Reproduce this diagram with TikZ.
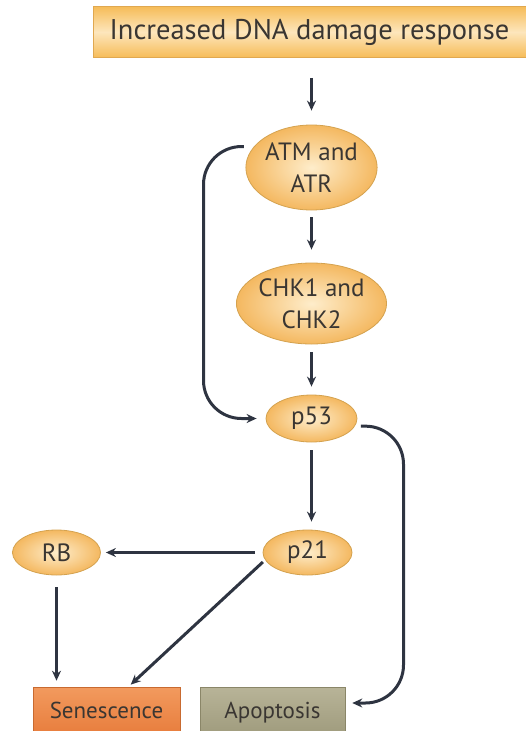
\documentclass[tikz,border=0pt]{standalone}
\usepackage{fontspec}
\setmainfont{PT Sans}
\usetikzlibrary{arrows.meta,shapes.geometric,calc}
\definecolor{arrc}{HTML}{2E3441}
\definecolor{txtc}{HTML}{3A3632}
\definecolor{ellin}{HTML}{FEEDCB}
\definecolor{ellout}{HTML}{F4B860}
\definecolor{elldraw}{HTML}{D4A24F}
\definecolor{topedge}{HTML}{F6BC58}
\definecolor{topmid}{HTML}{FDE6BC}
\definecolor{topdraw}{HTML}{E0A850}
\definecolor{sentop}{HTML}{F29A5E}
\definecolor{senbot}{HTML}{E87E3E}
\definecolor{sendraw}{HTML}{C86A30}
\definecolor{apotop}{HTML}{B8B498}
\definecolor{apobot}{HTML}{A09C7E}
\definecolor{apodraw}{HTML}{8A8668}
\begin{document}
\begin{tikzpicture}[x=1pt,y=-1pt,
  ell/.style={ellipse, inner sep=0pt, draw=elldraw, line width=0.8pt,
    inner color=ellin, outer color=ellout, text=txtc, font=\fontsize{25}{32}\selectfont,
    align=center},
  topbox/.style={rectangle, inner sep=0pt, draw=topdraw, line width=0.6pt,
    top color=topedge, bottom color=topedge, middle color=topmid, text=txtc,
    font=\fontsize{28.5}{32}\selectfont, minimum width=433pt, minimum height=51pt},
  senbox/.style={rectangle, inner sep=0pt, draw=sendraw, line width=0.6pt,
    top color=sentop, bottom color=senbot, text=txtc, text height=16pt, text depth=0pt,
    font=\fontsize{23}{27}\selectfont, minimum width=147pt, minimum height=46pt},
  apobox/.style={rectangle, inner sep=0pt, draw=apodraw, line width=0.6pt,
    top color=apotop, bottom color=apobot, text=txtc, text height=16pt, text depth=0pt,
    font=\fontsize{23}{27}\selectfont, minimum width=145pt, minimum height=46pt},
  arr/.style={draw=arrc, line width=3pt, -{Stealth[length=10pt,width=9pt]}}
]
\useasboundingbox (0,0) rectangle (526,731);

\node[topbox] (top) at (309.5,32) {Increased DNA damage response};
\node[ell, minimum width=115pt, minimum height=85pt] (atm) at (311.5,167.5) {ATM and\\ATR};
\node[ell, minimum width=116pt, minimum height=81pt] (chk) at (311.5,303.5) {CHK1 and\\CHK2};
\node[ell, minimum width=91pt, minimum height=47pt] (p53) at (311.5,418.5) {p53};
\node[ell, minimum width=89pt, minimum height=45pt] (p21) at (307.5,552.5) {p21};
\node[ell, minimum width=88pt, minimum height=45pt] (rb) at (56.5,552.5) {RB};
\node[senbox] (sen) at (106.5,710) {Senescence};
\node[apobox] (apo) at (272.5,710) {Apoptosis};

\coordinate (lx) at (203.5,0);
\coordinate (rx) at (403.5,0);

\draw[arr, shorten <=20pt, shorten >=14pt] (top.south -| atm.north) -- (atm.north);
\draw[arr, shorten <=7pt, shorten >=13pt] (atm.south) -- (chk.north);
\draw[arr, shorten <=8pt, shorten >=8pt] (chk.south) -- (p53.north);
\draw[arr, shorten <=8pt, shorten >=8pt] (p53.south) -- (p21.north -| p53.south);
\draw[arr, shorten <=8pt, shorten >=5pt] (p21.west) -- (rb.east);
\draw[arr, shorten <=12pt, shorten >=6pt] (rb.south) -- (sen.north -| rb.south);
\draw[arr, shorten <=3pt, shorten >=3pt] (p21.190) -- ([xshift=22pt]sen.north);
\draw[arr, rounded corners=38pt, shorten <=10pt] (atm.160) -- (atm.160 -| lx) -- (p53.west -| lx) -- ([xshift=-9pt]p53.west);
\draw[arr, rounded corners=38pt, shorten <=6pt] (p53.350) -- (p53.350 -| rx) -- ([yshift=7pt]apo.east -| rx) -- ([xshift=7pt,yshift=7pt]apo.east);
\end{tikzpicture}
\end{document}
